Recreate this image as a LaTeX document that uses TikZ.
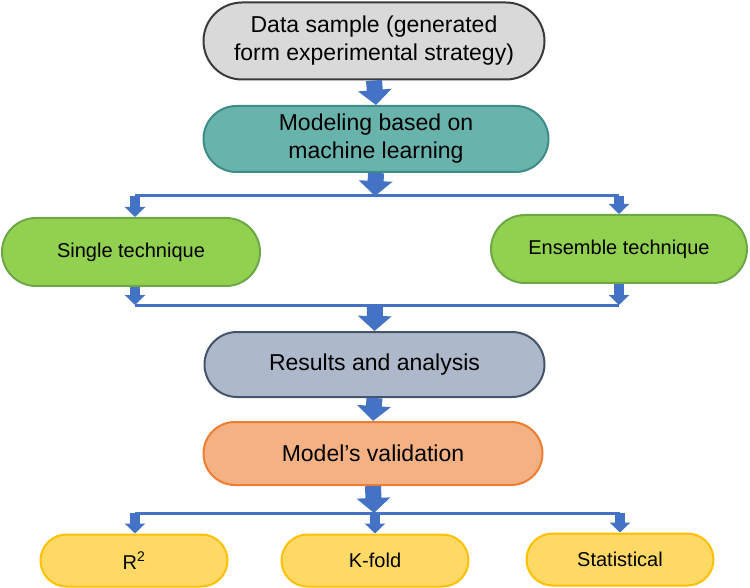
\documentclass[tikz,border=0pt]{standalone}
\usepackage{fontspec}
\setmainfont{Liberation Sans}
\usetikzlibrary{arrows.meta}
\definecolor{arrblue}{HTML}{4472C4}
\definecolor{grayfill}{HTML}{D9D9D9}
\definecolor{grayline}{HTML}{3A3A3A}
\definecolor{tealfill}{HTML}{69B3AD}
\definecolor{tealline}{HTML}{3E8C86}
\definecolor{greenfill}{HTML}{92D050}
\definecolor{greenline}{HTML}{6EA846}
\definecolor{bluefill}{HTML}{ADB9CA}
\definecolor{blueline}{HTML}{44546A}
\definecolor{orangefill}{HTML}{F4B183}
\definecolor{orangeline}{HTML}{ED7D31}
\definecolor{yellowfill}{HTML}{FFD966}
\definecolor{yellowline}{HTML}{FFC000}
\begin{document}
\begin{tikzpicture}[x=1pt,y=-1pt,
  pill/.style={draw, line width=2pt, inner sep=0pt, align=center, text=black},
  bigfont/.style={font=\fontsize{23}{28}\selectfont},
  smallfont/.style={font=\fontsize{20}{24}\selectfont},
  bigarrow/.style={draw=arrblue, line width=16pt, -{Triangle[width=33pt,length=15pt]}},
  smallarrow/.style={draw=arrblue, line width=10pt, -{Triangle[width=20pt,length=10pt]}},
  hline/.style={draw=arrblue, line width=3pt}]
\useasboundingbox (0,0) rectangle (750,588);
% nodes
\node[pill, bigfont, fill=grayfill, draw=grayline, minimum width=341pt, minimum height=77pt, rounded corners=38.5pt] (d) at (374,41) {Data sample (generated\\form experimental strategy)};
\node[pill, bigfont, fill=tealfill, draw=tealline, minimum width=345pt, minimum height=66pt, rounded corners=33pt] (m) at (376,139) {Modeling based on\\machine learning};
\node[pill, smallfont, fill=greenfill, draw=greenline, minimum width=258pt, minimum height=68pt, rounded corners=34pt] (s) at (131,252) {Single technique};
\node[pill, smallfont, fill=greenfill, draw=greenline, minimum width=256pt, minimum height=68pt, rounded corners=34pt] (e) at (619,249) {Ensemble technique};
\node[pill, bigfont, fill=bluefill, draw=blueline, minimum width=340pt, minimum height=65pt, rounded corners=32.5pt] (r) at (374.5,364.5) {Results and analysis};
\node[pill, bigfont, fill=orangefill, draw=orangeline, minimum width=339pt, minimum height=63pt, rounded corners=31.5pt] (v) at (373,453.5) {Model’s validation};
\node[pill, smallfont, fill=yellowfill, draw=yellowline, minimum width=187pt, minimum height=52pt, rounded corners=26pt] (r2) at (134,560.5) {R\textsuperscript{2}};
\node[pill, smallfont, fill=yellowfill, draw=yellowline, minimum width=187pt, minimum height=52pt, rounded corners=26pt] (k) at (375,560.5) {K-fold};
\node[pill, smallfont, fill=yellowfill, draw=yellowline, minimum width=187pt, minimum height=52pt, rounded corners=26pt] (st) at (620,559.5) {Statistical};
% junction coordinates
\coordinate (t0) at (375,196);
\coordinate (tl) at (135,196);
\coordinate (tr) at (619,196);
\coordinate (b0) at (375,305);
\coordinate (bl) at (135,305);
\coordinate (br) at (619,305);
\coordinate (v0) at (374,513);
\coordinate (vl) at (135,513);
\coordinate (vm) at (375,513);
\coordinate (vr) at (620,513);
% horizontal lines
\draw[hline] (tl) -- (tr);
\draw[hline] (bl) -- (br);
\draw[hline] (vl) -- (vr);
% big arrows
\draw[bigarrow] (d.south) -- (m.north);
\draw[bigarrow] (m.south) -- (t0);
\draw[bigarrow] (b0) -- (r.north);
\draw[bigarrow] (r.south) -- (v.north);
\draw[bigarrow] (v.south) -- (v0);
% small arrows
\draw[smallarrow] (tl) -- (tl |- s.north);
\draw[smallarrow] (tr) -- (tr |- e.north);
\draw[smallarrow] (tl |- s.south) -- (bl);
\draw[smallarrow] (tr |- e.south) -- (br);
\draw[smallarrow] (vl) -- (vl |- r2.north);
\draw[smallarrow] (vm) -- (vm |- k.north);
\draw[smallarrow] (vr) -- (vr |- st.north);
\end{tikzpicture}
\end{document}
